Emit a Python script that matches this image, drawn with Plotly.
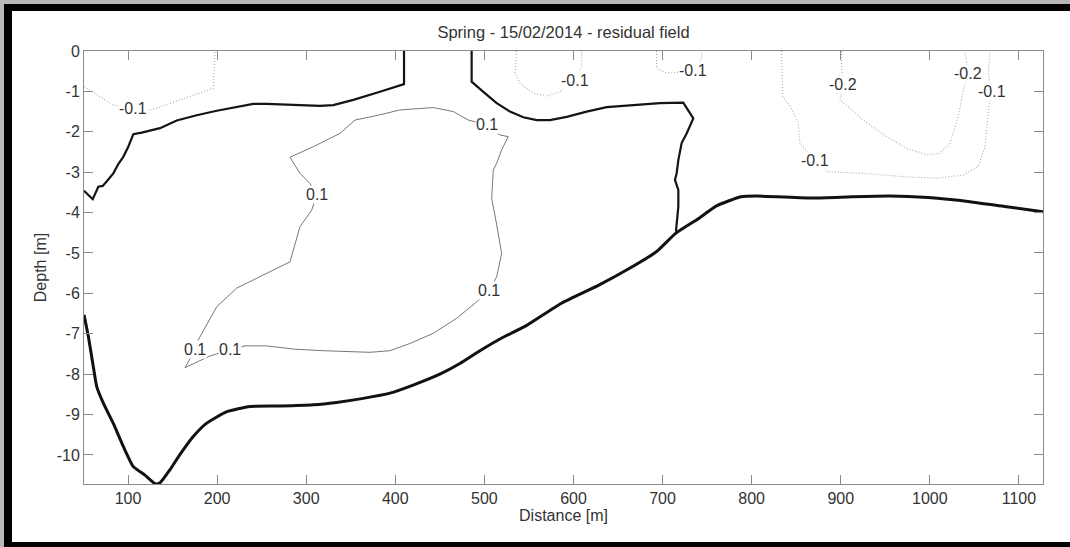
import plotly.graph_objects as go

# ---- figure geometry (pixels) ----
FIG_W, FIG_H = 1070, 547
M_L, M_R, M_T, M_B = 84, 27, 51, 63
PLOT_W = FIG_W - M_L - M_R
PLOT_H = FIG_H - M_T - M_B

X_RANGE = [50.6, 1127.0]
Y_RANGE = [-10.72, 0.0]

x_ticks = [100, 200, 300, 400, 500, 600, 700, 800, 900, 1000, 1100]
y_ticks = [0, -1, -2, -3, -4, -5, -6, -7, -8, -9, -10]

# ---- seabed profile ----
bed_x = [50.6, 55.5, 61, 64.9, 72.3, 83.5, 94.7, 106, 119, 131, 136, 147, 158,
         173, 188, 211, 237, 271, 308, 334, 364, 394, 420, 450, 473, 495, 520,
         547, 586, 629, 663, 693, 715, 741, 760, 788, 805, 870, 912, 955, 998,
         1045, 1084, 1127]
bed_y = [-6.53, -7.07, -7.81, -8.31, -8.72, -9.22, -9.79, -10.29, -10.50,
         -10.72, -10.69, -10.37, -10.0, -9.55, -9.22, -8.93, -8.80, -8.79,
         -8.76, -8.70, -8.60, -8.47, -8.27, -8.0, -7.73, -7.42, -7.10, -6.80,
         -6.25, -5.79, -5.38, -4.97, -4.51, -4.14, -3.84, -3.61, -3.59, -3.64,
         -3.61, -3.59, -3.63, -3.73, -3.85, -3.98]

# ---- zero residual contour, two branches ----
zero_a_x = [50.6, 60.4, 66.7, 71.6, 76, 83.5, 89.1, 94.7, 100.3, 106, 115.4,
            126.6, 135.9, 154.7, 177.1, 199.6, 222, 240.6, 255.7, 285.5, 315.5,
            330.4, 352.9, 382.8, 399.7, 409.8, 409.8]
zero_a_y = [-3.46, -3.67, -3.36, -3.34, -3.23, -3.03, -2.80, -2.62, -2.37,
            -2.06, -2.02, -1.97, -1.91, -1.72, -1.59, -1.48, -1.38, -1.31,
            -1.31, -1.34, -1.36, -1.34, -1.21, -1.01, -0.88, -0.82, 0.0]
zero_b_x = [485.7, 485.7, 498.8, 513.8, 528.7, 543.7, 558.7, 573.6, 592.4,
            614.8, 637.3, 667.1, 697.1, 723.2, 734.5, 727, 721.4, 717.7, 715.8,
            713.9, 717.7, 717.7, 716.5, 715]
zero_b_y = [0.0, -0.76, -1.01, -1.29, -1.50, -1.64, -1.71, -1.71, -1.63, -1.50,
            -1.39, -1.34, -1.29, -1.28, -1.67, -2.04, -2.28, -2.70, -3.03,
            -3.19, -3.44, -3.85, -4.18, -4.47]

# ---- +0.1 contour ----
p01_x = [214.5, 231.3, 255.7, 285.5, 319.2, 349.2, 371.6, 394, 416.5, 442.6,
         468.7, 491.4, 505.5, 513.8, 519.4, 513.8, 508.2, 510, 513.8, 519.4,
         526.8, 517.5, 502.6, 482, 465.1, 442.6, 427.7, 405, 382.8, 354.8,
         337.9, 308, 281.8, 293, 304.3, 311.8, 306.2, 293, 281.8, 248.1, 222,
         199.6, 178.9, 175.2, 164, 192, 214.5]
p01_y = [-7.40, -7.30, -7.30, -7.38, -7.42, -7.44, -7.46, -7.42, -7.24, -6.99,
         -6.62, -6.21, -5.92, -5.59, -5.01, -4.30, -3.65, -2.95, -2.78, -2.45,
         -2.12, -2.08, -1.83, -1.71, -1.50, -1.40, -1.42, -1.46, -1.58, -1.71,
         -2.04, -2.37, -2.63, -3.03, -3.28, -3.56, -3.94, -4.35, -5.22, -5.59,
         -5.87, -6.33, -7.15, -7.40, -7.84, -7.55, -7.40]

# ---- -0.1 contour branches ----
m01_branches = [
    ([50.6, 68.6, 83.5, 106, 126.6, 158.4, 195.7, 197.6, 197.6],
     [-0.88, -1.13, -1.34, -1.42, -1.46, -1.21, -0.92, -0.06, 0.0]),
    ([536.1, 534.3, 540, 554.9, 569.9, 584.8, 601.7, 609.2, 609.2],
     [0.0, -0.55, -0.80, -1.05, -1.11, -1.01, -0.72, -0.39, 0.0]),
    ([693.3, 693.3, 704.5, 734.5, 743.8, 743.8],
     [0.0, -0.43, -0.55, -0.49, -0.18, 0.0]),
    ([833.6, 834.7, 844.8, 852.3, 854.2, 871, 884.1, 925.2, 970.1, 1007.6,
      1037.4, 1054.3, 1061.9, 1065.5, 1069.3, 1065.5, 1067.5],
     [0.0, -1.13, -1.42, -1.79, -2.29, -2.70, -2.99, -3.03, -3.11, -3.15,
      -3.07, -2.86, -2.37, -1.50, -1.01, -0.55, 0.0]),
]

# ---- -0.2 contour ----
m02_x = [901, 901, 902.8, 899.1, 925.2, 951.5, 973.9, 996.4, 1011.3, 1022.6,
         1031.9, 1037.5, 1043.1, 1039.4, 1039.4]
m02_y = [0.0, -0.39, -0.84, -1.21, -1.71, -2.12, -2.41, -2.57, -2.53, -2.29,
         -1.63, -0.97, -0.55, -0.06, 0.0]

# ---- contour labels (level, x, y) ----
labels = [
    (0.1, 502.6, -1.83), (0.1, 311.8, -3.56), (0.1, 505.5, -5.92),
    (0.1, 175.2, -7.40), (0.1, 214.5, -7.40),
    (-0.1, 106, -1.42), (-0.1, 601.7, -0.72), (-0.1, 734.5, -0.49),
    (-0.1, 871, -2.70), (-0.1, 1069.3, -1.01),
    (-0.2, 902.8, -0.84), (-0.2, 1043.1, -0.55),
]

FONT = "Liberation Sans, Arial, Helvetica, sans-serif"
TEXT_COLOR = "#333333"
AXIS_COLOR = "#8a8a8a"
NEG_STYLE = dict(color="#a8a8a8", width=1.1, dash="1px,2px")

fig = go.Figure()

for xs, ys in m01_branches:
    fig.add_trace(go.Scatter(x=xs, y=ys, mode="lines", line=NEG_STYLE,
                             hoverinfo="skip"))
fig.add_trace(go.Scatter(x=m02_x, y=m02_y, mode="lines", line=NEG_STYLE,
                         hoverinfo="skip"))
fig.add_trace(go.Scatter(x=p01_x, y=p01_y, mode="lines",
                         line=dict(color="#777777", width=1), hoverinfo="skip"))
fig.add_trace(go.Scatter(x=zero_a_x, y=zero_a_y, mode="lines",
                         line=dict(color="#141414", width=2.2), hoverinfo="skip"))
fig.add_trace(go.Scatter(x=zero_b_x, y=zero_b_y, mode="lines",
                         line=dict(color="#141414", width=2.2), hoverinfo="skip"))
fig.add_trace(go.Scatter(x=bed_x, y=bed_y, mode="lines",
                         line=dict(color="#111111", width=3, shape="spline",
                                   smoothing=0.5),
                         hoverinfo="skip"))

for level, lx, ly in labels:
    fig.add_annotation(x=lx, y=ly, xref="x", yref="y", text=f"{level:g}",
                       showarrow=False, bgcolor="white", borderpad=0,
                       font=dict(family=FONT, size=16, color=TEXT_COLOR))


# frame around the page: thin grey edge, black band, white inside
def px_to_paper_x(px):
    return (px - M_L) / PLOT_W


def px_to_paper_y(py):
    return (FIG_H - M_B - py) / PLOT_H


fig.add_shape(type="rect", xref="paper", yref="paper", layer="below",
              x0=px_to_paper_x(4), x1=px_to_paper_x(FIG_W + 20),
              y0=px_to_paper_y(FIG_H + 20), y1=px_to_paper_y(4),
              fillcolor="black", line=dict(width=0))
fig.add_shape(type="rect", xref="paper", yref="paper", layer="below",
              x0=px_to_paper_x(12), x1=px_to_paper_x(FIG_W + 20),
              y0=px_to_paper_y(542), y1=px_to_paper_y(11),
              fillcolor="white", line=dict(width=0))

axis_common = dict(showgrid=False, zeroline=False, showline=True,
                   linecolor=AXIS_COLOR, linewidth=1, mirror="ticks",
                   ticks="inside", ticklen=9, tickcolor=AXIS_COLOR,
                   tickwidth=1,
                   tickfont=dict(family=FONT, size=16, color=TEXT_COLOR))

fig.update_xaxes(range=X_RANGE, tickvals=x_ticks,
                 ticktext=[str(v) for v in x_ticks], **axis_common,
                 title=dict(text="Distance [m]", standoff=1,
                            font=dict(family=FONT, size=16, color=TEXT_COLOR)))
fig.update_yaxes(range=Y_RANGE, tickvals=y_ticks,
                 ticktext=[str(v) for v in y_ticks], **axis_common,
                 title=dict(text="Depth [m]", standoff=6,
                            font=dict(family=FONT, size=16, color=TEXT_COLOR)))

fig.update_layout(
    width=FIG_W, height=FIG_H,
    margin=dict(l=M_L, r=M_R, t=M_T, b=M_B, autoexpand=False),
    paper_bgcolor="#b8b8b8", plot_bgcolor="white",
    showlegend=False,
    title=dict(text="Spring - 15/02/2014 - residual field",
               x=0.5, xref="paper", y=1 - 32 / FIG_H, yref="container",
               yanchor="middle", xanchor="center",
               font=dict(family=FONT, size=16.5, color=TEXT_COLOR)),
)

fig.write_html("out.html")
